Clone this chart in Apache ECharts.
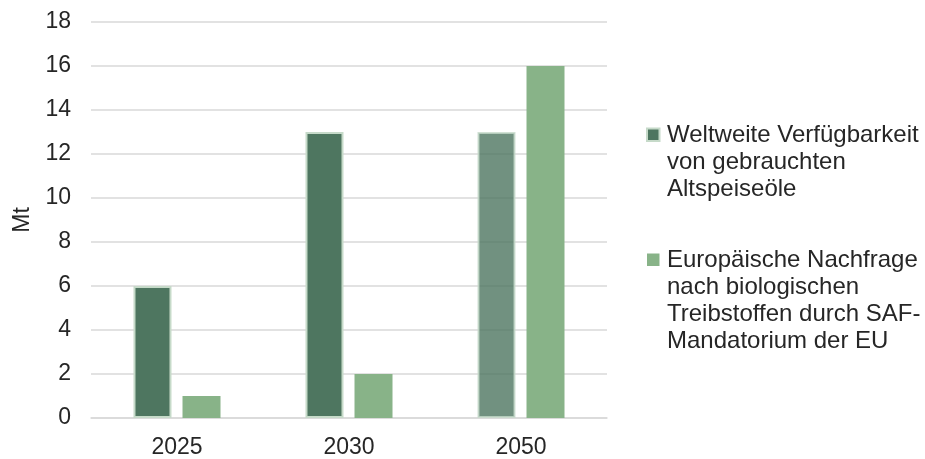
<!DOCTYPE html>
<html>
<head>
<meta charset="utf-8">
<script src="https://cdn.jsdelivr.net/npm/echarts@6/dist/echarts.min.js"></script>
<style>
  html, body { margin: 0; padding: 0; background: #fff; }
  #chart { width: 925px; height: 459px; }
</style>
</head>
<body>
<div id="chart"></div>
<script>
// Jahre und Werte (Mt)
var years = ['2025', '2030', '2050'];
var usedOil = [6, 13, 13];
var safDemand = [1, 2, 16];
var yTicks = [0, 2, 4, 6, 8, 10, 12, 14, 16, 18];
var nameOil = 'Weltweite Verfügbarkeit\nvon gebrauchten\nAltspeiseöle';
var nameSaf = 'Europäische Nachfrage\nnach biologischen\nTreibstoffen durch SAF-\nMandatorium der EU';

var font = '"Liberation Sans", Arial, sans-serif';
var dark = '#4e7660';
var light = '#88b388';

var chart = echarts.init(document.getElementById('chart'), null, { renderer: 'canvas' });

// 2050er Balken ist heller (halbtransparent)
var oilData = usedOil.map(function (v, i) {
  if (years[i] === '2050') {
    return { value: v, itemStyle: { opacity: 0.8 } };
  }
  return v;
});

var option = {
  animation: false,
  backgroundColor: '#fff',
  textStyle: { fontFamily: font },
  grid: {
    left: 91,
    right: 318,
    top: 22,
    bottom: 41,
    outerBoundsMode: 'none'
  },
  legend: {
    orient: 'vertical',
    left: 641,
    top: 107,
    padding: 0,
    itemWidth: 20,
    itemHeight: 108,
    itemGap: 29.5,
    selectedMode: false,
    textStyle: {
      fontFamily: font,
      fontSize: 24,
      lineHeight: 27,
      color: '#262626'
    },
    data: [
      { name: nameOil, icon: 'path://M0,0M20,108M5,20.5h12.5v12.5h-12.5z' },
      { name: nameSaf, icon: 'path://M0,0M20,108M5,7h12.5v12.5h-12.5z' }
    ]
  },
  xAxis: {
    type: 'category',
    data: years,
    axisTick: { show: false },
    axisLine: { lineStyle: { color: '#d9d9d9', width: 1.5 } },
    axisLabel: {
      fontFamily: font,
      fontSize: 23,
      color: '#262626',
      margin: 18
    }
  },
  yAxis: {
    type: 'value',
    min: yTicks[0],
    max: yTicks[yTicks.length - 1],
    interval: 2,
    name: 'Mt',
    nameLocation: 'middle',
    nameGap: 55,
    nameTextStyle: { fontFamily: font, fontSize: 23, color: '#262626' },
    axisLine: { show: false },
    axisTick: { show: false },
    axisLabel: {
      fontFamily: font,
      fontSize: 23,
      color: '#262626',
      margin: 20
    },
    splitLine: { lineStyle: { color: '#d9d9d9', width: 1.5 } }
  },
  series: [
    {
      name: nameOil,
      type: 'bar',
      data: oilData,
      barWidth: 38,
      barGap: '29%',
      itemStyle: { color: dark, borderColor: '#c6dac9', borderWidth: 2 }
    },
    {
      name: nameSaf,
      type: 'bar',
      data: safDemand,
      barWidth: 38,
      itemStyle: { color: light }
    }
  ]
};

chart.setOption(option);
</script>
</body>
</html>
